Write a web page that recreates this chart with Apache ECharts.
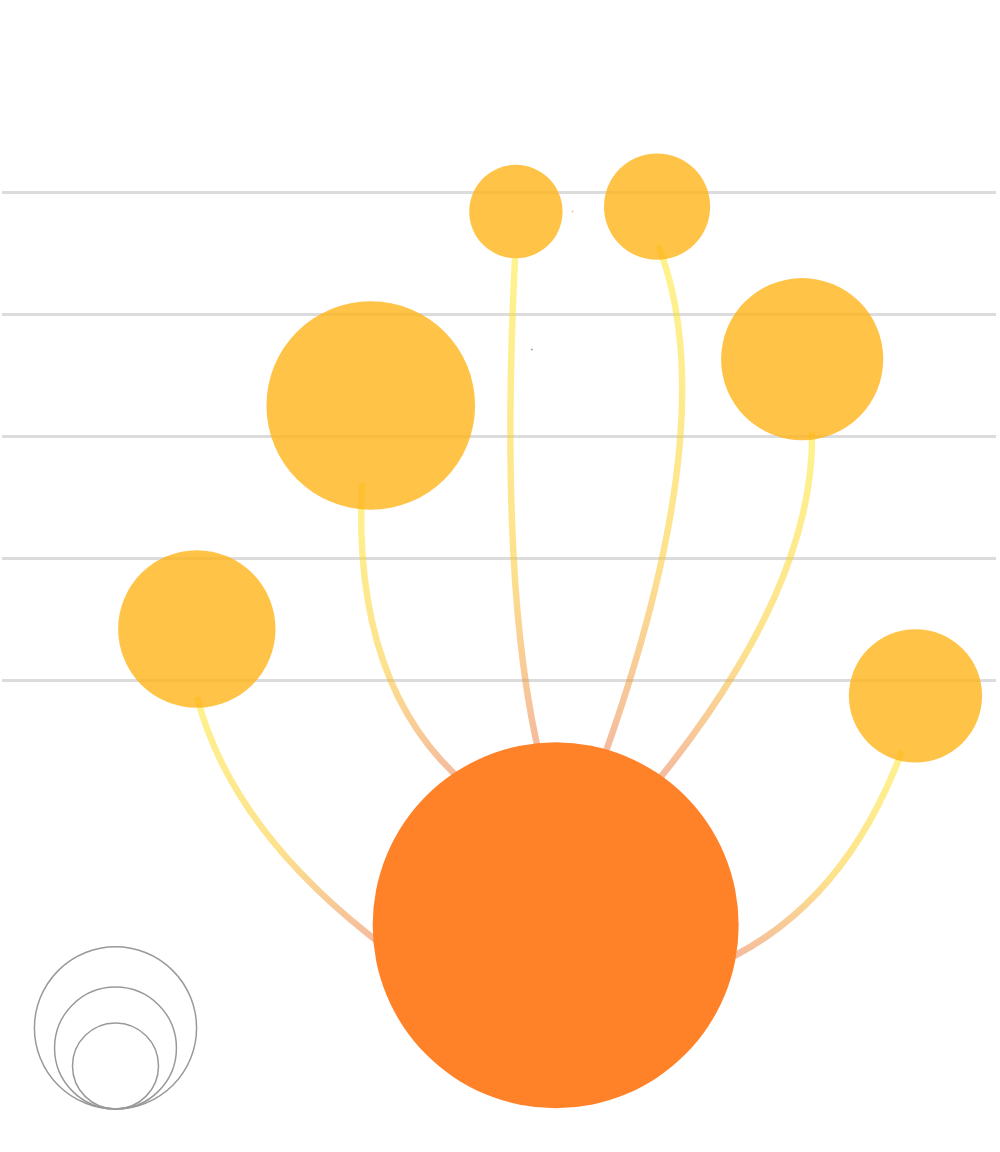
<!DOCTYPE html>
<html>
<head>
<meta charset="utf-8">
<title>Hub and leaves</title>
<style>
  html, body { margin: 0; padding: 0; background: #fff; }
  #chart { width: 1000px; height: 1152px; }
</style>
<script src="https://cdn.jsdelivr.net/npm/echarts@6/dist/echarts.min.js"></script>
</head>
<body>
<div id="chart"></div>
<script>
(function (echarts) {
  "use strict";

  // nodes, on the chart's own axes (x runs 0..100, y in levels 0..4)
  var hubPos = [55.7, -2.01];
  var hubWeight = 100;

  var leafX = [19.6, 37.1, 51.7, 65.9, 80.5, 91.9];
  var leafY = [0.418, 2.25, 3.84, 3.88, 2.63, -0.13];
  var leafWeight = [43, 57, 25.5, 29, 44.3, 36.4];

  // links: start under the hub, bend through a control point, end at the foot of a leaf
  var linkFrom = [[38.53, -2.189], [46.88, -0.869], [54.23, -0.672], [60.16, -0.721], [65.39, -0.885], [72.43, -2.311]];
  var linkCtrl = [[23.15, -1.244], [35.18, -0.069], [49.94, 0.739], [72.91, 2.135], [81.8, 0.75], [84.77, -1.843]];
  var linkTo = [[19.62, -0.139], [36.22, 1.615], [51.61, 3.459], [66.0, 3.566], [81.49, 2.033], [90.54, -0.582]];

  // two stray specks
  var speckX = [57.4, 53.3];
  var speckY = [3.84, 2.71];

  // size legend weights
  var legendWeight = [44.3, 33.3, 23.5];

  var SIZE_PER_WEIGHT = 3.66;

  function sizeOf(weight) {
    return weight * SIZE_PER_WEIGHT;
  }

  var leafData = leafX.map(function (x, i) {
    return [x, leafY[i], leafWeight[i]];
  });

  var linkData = linkFrom.map(function (from, i) {
    return from.concat(linkCtrl[i], linkTo[i]);
  });

  // yellow at the leaf, turning peach only near the hub
  var linkGradient = new echarts.graphic.LinearGradient(0, 0, 0, 1, [
    { offset: 0, color: '#ffe81e' },
    { offset: 0.6, color: '#fcc61c' },
    { offset: 1, color: '#e96f41' }
  ]);

  function renderLink(params, api) {
    var a = api.coord([api.value(0), api.value(1)]);
    var c = api.coord([api.value(2), api.value(3)]);
    var b = api.coord([api.value(4), api.value(5)]);
    return {
      type: 'bezierCurve',
      shape: { x1: a[0], y1: a[1], cpx1: c[0], cpy1: c[1], x2: b[0], y2: b[1] },
      style: { fill: 'none', stroke: linkGradient, lineWidth: 6.5, opacity: 0.5 }
    };
  }

  var speckColors = ['#f7b38c', '#8a8a8a'];
  var speckData = speckX.map(function (x, i) {
    return { value: [x, speckY[i]], itemStyle: { color: speckColors[i] } };
  });

  // nested circles of the size legend, all sitting on one bottom point
  var legendBase = [115.5, 1109];
  var legendCircles = legendWeight.map(function (w) {
    var r = sizeOf(w) / 2;
    return {
      type: 'circle',
      silent: true,
      shape: { cx: legendBase[0], cy: legendBase[1] - r, r: r },
      style: { fill: 'none', stroke: '#999', lineWidth: 1.5 }
    };
  });

  var chart = echarts.init(document.getElementById('chart'));

  chart.setOption({
    animation: false,
    grid: { left: 2, right: 4, top: 192, bottom: 472 },
    xAxis: {
      type: 'value',
      min: 0,
      max: 100,
      axisLine: { show: false },
      axisTick: { show: false },
      axisLabel: { show: false },
      splitLine: { show: false }
    },
    yAxis: {
      type: 'value',
      min: 0,
      max: 4,
      interval: 1,
      axisLine: { show: false },
      axisTick: { show: false },
      axisLabel: { show: false },
      splitLine: { lineStyle: { color: '#dcdcdc', width: 3 } }
    },
    graphic: legendCircles,
    series: [
      {
        type: 'custom',
        clip: false,
        silent: true,
        z: 1,
        renderItem: renderLink,
        data: linkData
      },
      {
        type: 'scatter',
        clip: false,
        silent: true,
        z: 2,
        symbolSize: function (v) { return sizeOf(v[2]); },
        itemStyle: { color: 'rgb(255,180,25)', opacity: 0.8 },
        data: leafData
      },
      {
        type: 'scatter',
        clip: false,
        silent: true,
        z: 3,
        symbolSize: function (v) { return sizeOf(v[2]); },
        itemStyle: { color: '#ff8229', opacity: 1 },
        data: [[hubPos[0], hubPos[1], hubWeight]]
      },
      {
        type: 'scatter',
        clip: false,
        silent: true,
        z: 3,
        symbolSize: 2,
        data: speckData
      }
    ]
  });
})(echarts);
</script>
</body>
</html>
